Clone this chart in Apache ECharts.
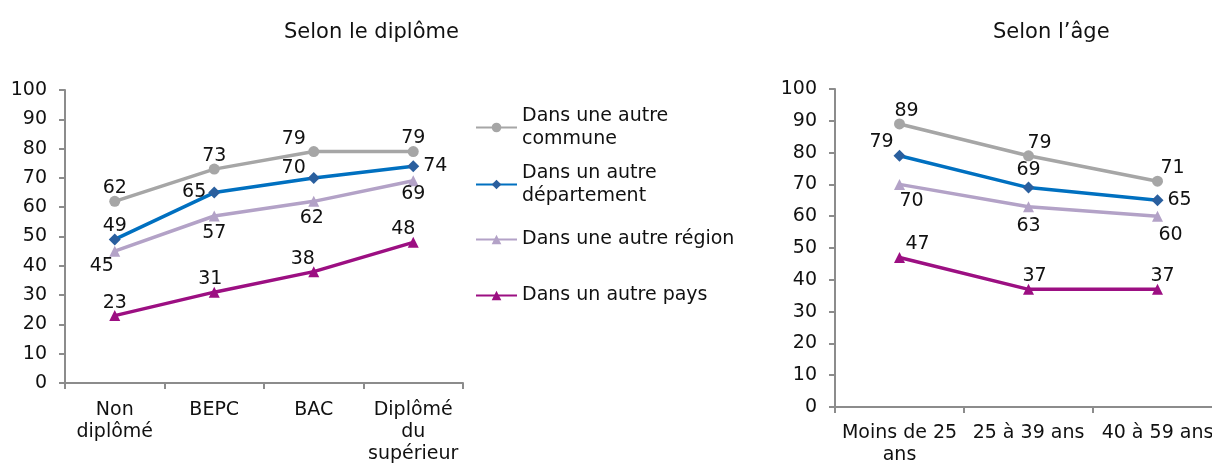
<!DOCTYPE html>
<html>
<head>
<meta charset="utf-8">
<script src="https://cdn.jsdelivr.net/npm/echarts@6/dist/echarts.min.js"></script>
<style>
  html, body { margin: 0; padding: 0; background: #fff; }
  #chart { width: 1212px; height: 464px; }
</style>
</head>
<body>
<div id="chart"></div>
<script>
'use strict'
// categories
const diplomaCats = ['Non\ndiplômé', 'BEPC', 'BAC', 'Diplômé\ndu\nsupérieur'];
const ageCats = ['Moins de 25\nans', '25 à 39 ans', '40 à 59 ans'];
const seriesNames = ['Dans une autre commune', 'Dans un autre département', 'Dans une autre région', 'Dans un autre pays'];
const legendLabels = ['Dans une autre\ncommune', 'Dans un autre\ndépartement', 'Dans une autre région', 'Dans un autre pays'];

// selon le diplôme
const diplomaCommune = [62, 73, 79, 79];
const diplomaDepartement = [49, 65, 70, 74];
const diplomaRegion = [45, 57, 62, 69];
const diplomaPays = [23, 31, 38, 48];

// selon l'âge
const ageCommune = [89, 79, 71];
const ageDepartement = [79, 69, 65];
const ageRegion = [70, 63, 60];
const agePays = [47, 37, 37];

// look
const FONT = 'DejaVu Sans';
const FS = 19;
const colors = ['#a6a6a6', '#0070c0', '#b3a2c7', '#9c0f82'];
const symbols = ['circle', 'diamond', 'triangle', 'triangle'];
const symbolSizes = [11, 12, 11, 11];
const symbolColors = ['#a6a6a6', '#2a5f9e', '#b3a2c7', '#9c0f82'];

// label placement for each point: [position, dx, dy]
const diplomaLabelPos = [
	[['top', 0, 4], ['top', 0, 4], ['top', -20, 5], ['top', 0, 4]],
	[['top', 0, 4], ['left', 0, 0], ['left', 0, -10], ['right', 2, 0]],
	[['bottom', -13, -2], ['bottom', 0, 0], ['bottom', -2, 0], ['bottom', 0, -4]],
	[['top', 0, 4], ['top', -4, 4], ['top', -11, 4], ['top', -10, 4]]
];
const ageLabelPos = [
	[['top', 7, 4], ['top', 11, 4], ['top', 15, 4]],
	[['top', -18, 4], ['top', 0, 0], ['right', 2, 0]],
	[['bottom', 12, 0], ['bottom', 0, 2], ['bottom', 13, 2]],
	[['top', 18, 4], ['top', 6, 4], ['top', 5, 4]]
];

function buildData(values, placement) {
	return values.map((v, i) => ({
		value: v,
		label: { position: placement[i][0], offset: [placement[i][1], placement[i][2]] }
	}));
}

function makeSeries(valueSets, placements, axisIndex) {
	return valueSets.map((vals, k) => ({
		name: seriesNames[k],
		type: 'line',
		xAxisIndex: axisIndex,
		yAxisIndex: axisIndex,
		data: buildData(vals, placements[k]),
		symbol: symbols[k],
		symbolSize: symbolSizes[k],
		showAllSymbol: true,
		lineStyle: { color: colors[k], width: 3.5 },
		itemStyle: { color: symbolColors[k], borderWidth: 0 },
		label: { show: true, color: '#111', fontFamily: FONT, fontSize: FS, distance: 2 },
		emphasis: { disabled: true },
		animation: false
	}));
}

function axisX(cats, idx, margin) {
	return {
		type: 'category',
		gridIndex: idx,
		data: cats,
		boundaryGap: true,
		axisLine: { lineStyle: { color: '#8c8c8c', width: 2 } },
		axisTick: { show: true, length: 6, alignWithLabel: false, lineStyle: { color: '#8c8c8c', width: 2 } },
		axisLabel: { color: '#111', fontFamily: FONT, fontSize: FS, lineHeight: 22, margin: margin, interval: 0 }
	};
}

function axisY(idx) {
	return {
		type: 'value',
		gridIndex: idx,
		min: 0,
		max: 100,
		interval: 10,
		splitLine: { show: false },
		axisLine: { show: true, lineStyle: { color: '#8c8c8c', width: 2 } },
		axisTick: { show: true, length: 6, lineStyle: { color: '#8c8c8c', width: 2 } },
		axisLabel: { color: '#111', fontFamily: FONT, fontSize: FS, margin: 18 }
	};
}

const legendTops = [93, 150, 228, 284];
const legends = seriesNames.map((n, k) => ({
	data: [n],
	orient: 'vertical',
	left: 475,
	top: legendTops[k],
	padding: 0,
	itemWidth: 41,
	itemHeight: 12,
	itemGap: 2,
	selectedMode: false,
	formatter: () => legendLabels[k],
	textStyle: {
		color: '#111',
		fontFamily: FONT,
		fontSize: FS,
		lineHeight: 23,
		padding: legendLabels[k].includes('\n') ? [23, 0, 0, 0] : 0
	}
}));

const chart = echarts.init(document.getElementById('chart'), null, { renderer: 'canvas' });
chart.setOption({
	animation: false,
	color: colors,
	title: [
		{ text: 'Selon le diplôme', left: 279, top: 17, textStyle: { color: '#111', fontFamily: FONT, fontSize: 21, fontWeight: 'normal' } },
		{ text: 'Selon l’âge', left: 988, top: 17, textStyle: { color: '#111', fontFamily: FONT, fontSize: 21, fontWeight: 'normal' } }
	],
	legend: legends,
	grid: [
		{ left: 65, width: 398, top: 90, height: 293, outerBoundsMode: 'none', containLabel: false },
		{ left: 835, width: 387, top: 89, height: 318, outerBoundsMode: 'none', containLabel: false }
	],
	xAxis: [axisX(diplomaCats, 0, 16), axisX(ageCats, 1, 15)],
	yAxis: [axisY(0), axisY(1)],
	series: makeSeries([diplomaCommune, diplomaDepartement, diplomaRegion, diplomaPays], diplomaLabelPos, 0)
		.concat(makeSeries([ageCommune, ageDepartement, ageRegion, agePays], ageLabelPos, 1))
});
</script>
</body>
</html>
